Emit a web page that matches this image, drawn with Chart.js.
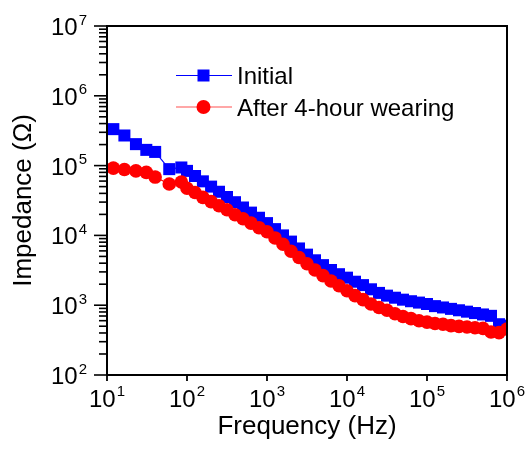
<!DOCTYPE html>
<html>
<head>
<meta charset="utf-8">
<script src="https://cdn.jsdelivr.net/npm/chart.js@4.4.1/dist/chart.umd.min.js"></script>
<style>
  html, body { margin: 0; padding: 0; background: #fff; }
  canvas { display: block; }
</style>
</head>
<body>
<canvas id="impedanceChart" width="527" height="449"></canvas>
<script>
// ============================================
// DATA
// ============================================
var frequencies = [
  12, 16.5, 23, 31, 40, 60, 85,
  100, 126, 158, 200, 251, 316, 398, 501, 631, 794,
  1000, 1259, 1585, 1995, 2512, 3162, 3981, 5012, 6310, 7943,
  10000, 12589, 15849, 19953, 25119, 31623, 39811, 50119, 63096, 79433,
  100000, 125893, 158489, 199526, 251189, 316228, 398107, 501187, 630957, 794328,
  1000000
];

var initialZ = [
  333000, 270000, 203000, 168000, 157000, 89000, 94000,
  84000, 71000, 59500, 50000, 42200, 35500, 29900, 25100, 21200, 17900,
  15000, 12300, 10000, 8150, 6500, 5300, 4400, 3750, 3190, 2780,
  2480, 2170, 1940, 1690, 1500, 1370, 1280, 1200, 1140, 1090,
  1040, 970, 928, 886, 846, 808, 772, 737, 704, 534,
  510
];

var wornZ = [
  92000, 88000, 84000, 80000, 68500, 54400, 58300,
  47400, 41200, 35100, 30500, 26600, 23300, 19800, 17300, 15000, 12900,
  11300, 9200, 7470, 5940, 4830, 3920, 3190, 2650, 2220, 1900,
  1610, 1370, 1200, 1040, 928, 846, 755, 688, 642, 600,
  572, 546, 534, 510, 498, 487, 476, 465, 414, 405,
  455
];

var xTickExps = [1, 2, 3, 4, 5, 6];
var yTickExps = [2, 3, 4, 5, 6, 7];
var seriesNames = ["Initial", "After 4-hour wearing"];

var FONT = '"Liberation Sans", Arial, sans-serif';

function toPoints(xs, ys) {
  return xs.map(function (f, i) {
    return { x: f, y: ys[i] };
  });
}

// draw "10" with a superscript exponent
function drawPow(ctx, exp, x, baseY, supY, align) {
  ctx.font = "24px " + FONT;
  var w1 = ctx.measureText("10").width;
  ctx.font = "15px " + FONT;
  var w2 = ctx.measureText(String(exp)).width;
  var total = w1 + 1 + w2;
  var start = align === "right" ? x - total : x - total / 2;
  ctx.textAlign = "left";
  ctx.textBaseline = "alphabetic";
  ctx.font = "24px " + FONT;
  ctx.fillText("10", start, baseY);
  ctx.font = "15px " + FONT;
  ctx.fillText(String(exp), start + w1 + 1, supY);
}

// ============================================
// AXES, TICKS, TITLES, LEGEND
// ============================================
var decorPlugin = {
  id: "decor",
  afterDraw: function (chart) {
    var ctx = chart.ctx;
    var a = chart.chartArea;
    var xs = chart.scales.x;
    var ys = chart.scales.y;
    ctx.save();
    ctx.fillStyle = "#000";
    ctx.strokeStyle = "#000";

    // frame
    ctx.lineWidth = 2;
    ctx.strokeRect(a.left, a.top, a.right - a.left, a.bottom - a.top);

    // y ticks (major + minor, outward)
    ctx.lineWidth = 1.6;
    yTickExps.forEach(function (e, i) {
      var py = ys.getPixelForValue(Math.pow(10, e));
      ctx.beginPath();
      ctx.moveTo(a.left - 13, py);
      ctx.lineTo(a.left, py);
      ctx.stroke();
      if (i < yTickExps.length - 1) {
        for (var m = 2; m <= 9; m++) {
          var my = ys.getPixelForValue(m * Math.pow(10, e));
          ctx.beginPath();
          ctx.moveTo(a.left - 8, my);
          ctx.lineTo(a.left, my);
          ctx.stroke();
        }
      }
      drawPow(ctx, e, a.left - 20, py + 9, py - 1.5, "right");
    });

    // x ticks (major only, outward)
    xTickExps.forEach(function (e) {
      var px = xs.getPixelForValue(Math.pow(10, e));
      ctx.lineWidth = 1.8;
      ctx.beginPath();
      ctx.moveTo(px, a.bottom);
      ctx.lineTo(px, a.bottom + 6);
      ctx.stroke();
      drawPow(ctx, e, px, a.bottom + 32, a.bottom + 21, "center");
    });

    // axis titles
    ctx.font = "26px " + FONT;
    ctx.textAlign = "center";
    ctx.textBaseline = "alphabetic";
    ctx.fillText("Frequency (Hz)", (a.left + a.right) / 2, 434);
    ctx.save();
    ctx.translate(24, (a.top + a.bottom) / 2);
    ctx.rotate(-Math.PI / 2);
    ctx.textBaseline = "middle";
    ctx.fillText("Impedance (\u03A9)", 0, 0);
    ctx.restore();

    // legend
    var items = [
      { y: 75.5, color: "#0000ff", line: "#0000ff", shape: "rect", base: 84 },
      { y: 107, color: "#ff0000", line: "#ff5050", shape: "circle", base: 115.5 }
    ];
    items.forEach(function (it, i) {
      ctx.strokeStyle = it.line;
      ctx.lineWidth = 1.2;
      ctx.beginPath();
      ctx.moveTo(176, it.y);
      ctx.lineTo(232, it.y);
      ctx.stroke();
      ctx.fillStyle = it.color;
      if (it.shape === "rect") {
        ctx.fillRect(203.5 - 6, it.y - 6, 12, 12);
      } else {
        ctx.beginPath();
        ctx.arc(203.5, it.y, 7, 0, Math.PI * 2);
        ctx.fill();
      }
      ctx.fillStyle = "#000";
      ctx.font = "24px " + FONT;
      ctx.textAlign = "left";
      ctx.textBaseline = "alphabetic";
      ctx.fillText(seriesNames[i], 237, it.base);
    });

    ctx.restore();
  }
};

// ============================================
// CHART
// ============================================
var ctx1 = document.getElementById("impedanceChart");
new Chart(ctx1, {
  type: "line",
  data: {
    datasets: [
      {
        label: seriesNames[0],
        data: toPoints(frequencies, initialZ),
        borderColor: "#0000ff",
        backgroundColor: "#0000ff",
        borderWidth: 1.2,
        pointStyle: "rect",
        pointRadius: 8.5,
        pointBorderWidth: 0,
        pointBackgroundColor: "#0000ff",
        tension: 0,
        order: 2
      },
      {
        label: seriesNames[1],
        data: toPoints(frequencies, wornZ),
        borderColor: "#ff0000",
        backgroundColor: "#ff0000",
        borderWidth: 1.2,
        pointStyle: "circle",
        pointRadius: 6.8,
        pointBorderWidth: 0,
        pointBackgroundColor: "#ff0000",
        tension: 0,
        order: 1
      }
    ]
  },
  options: {
    responsive: false,
    animation: false,
    devicePixelRatio: 1,
    layout: { padding: { top: 26, right: 20, bottom: 0, left: 0 } },
    plugins: {
      legend: { display: false },
      tooltip: { enabled: false }
    },
    scales: {
      x: {
        type: "logarithmic",
        position: "bottom",
        min: 10,
        max: 1000000,
        grid: { display: false },
        border: { display: false },
        ticks: { display: false },
        afterFit: function (s) { s.height = 74; }
      },
      y: {
        type: "logarithmic",
        position: "left",
        min: 100,
        max: 10000000,
        grid: { display: false },
        border: { display: false },
        ticks: { display: false },
        afterFit: function (s) { s.width = 107; }
      }
    }
  },
  plugins: [decorPlugin]
});
</script>
</body>
</html>
